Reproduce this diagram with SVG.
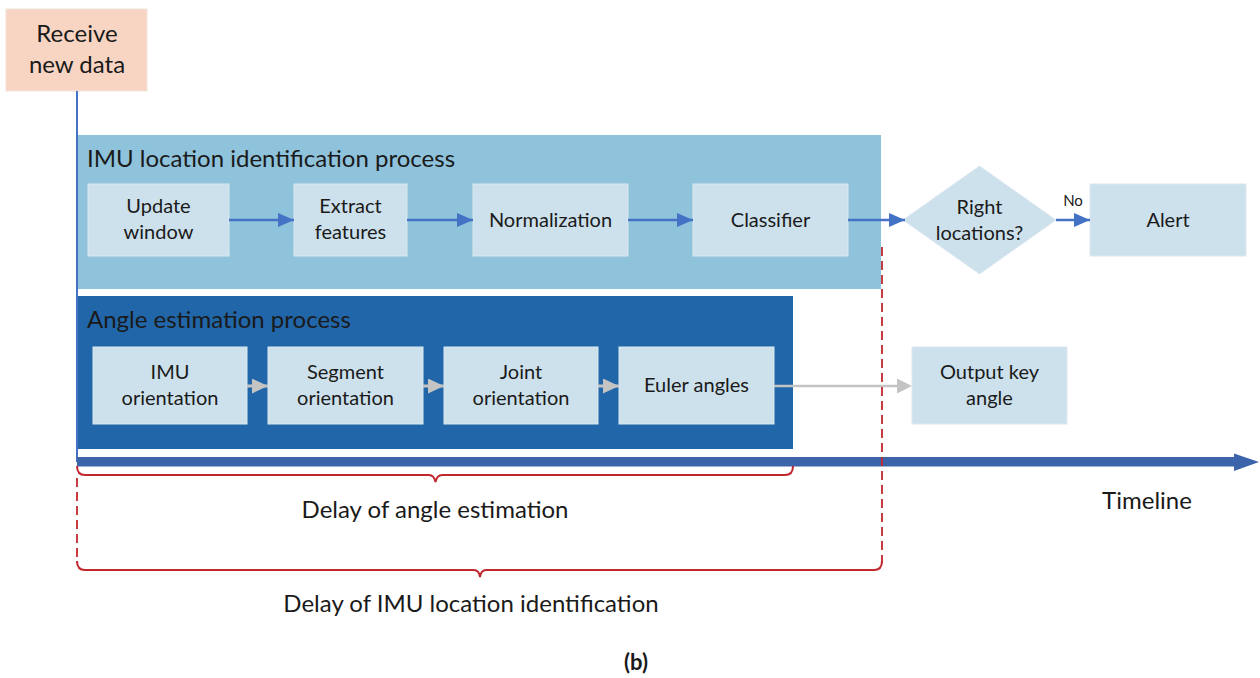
<svg xmlns="http://www.w3.org/2000/svg" width="1260" height="678" viewBox="0 0 1260 678">
<style>
text{font-family:Lato,"Open Sans","Liberation Sans",sans-serif;fill:#1a1a1a;text-anchor:middle}
.t{font-size:24px}
.n{font-size:20px}
.title{font-size:24px;text-anchor:start}
.inner{fill:#CDE1EC;stroke:#DCE8F0;stroke-width:1}
.blue{stroke:#4472C4;stroke-width:2.5;fill:none}
.gray{stroke:#C4C4C4;stroke-width:3;fill:none}
.red{stroke:#C0282E;stroke-width:2;fill:none}
.dash{stroke:#C0282E;stroke-width:1.8;fill:none;stroke-dasharray:9 5}
</style>
<defs>
<marker id="ab" viewBox="0 0 16 14" refX="16" refY="7" markerWidth="16" markerHeight="14" markerUnits="userSpaceOnUse" orient="auto"><path d="M0,0L16,7L0,14z" fill="#4472C4"/></marker>
<marker id="ag" viewBox="0 0 16 15" refX="16" refY="7.5" markerWidth="16" markerHeight="15" markerUnits="userSpaceOnUse" orient="auto"><path d="M0,0L16,7.5L0,15z" fill="#C4C4C4"/></marker>
</defs>
<rect width="1260" height="678" fill="#fff"/>

<g id="receive">
<rect x="6" y="9" width="141" height="82" fill="#F8D5C3" stroke="#F2E2DA" stroke-width="1"/>
<text class="t" x="77" y="42">Receive</text>
<text class="t" x="77" y="73">new data</text>
</g>

<g id="imu-process">
<rect x="77" y="135" width="804" height="154" fill="#8FC2DB"/>
<text class="title" x="87" y="167">IMU location identification process</text>
</g>
<g id="update-window"><rect class="inner" x="88" y="184" width="141" height="72"/><text class="n" x="158.5" y="213">Update</text><text class="n" x="158.5" y="239">window</text></g>
<g id="extract-features"><rect class="inner" x="294" y="184" width="113" height="72"/><text class="n" x="350.5" y="213">Extract</text><text class="n" x="350.5" y="239">features</text></g>
<g id="normalization"><rect class="inner" x="473" y="184" width="155" height="72"/><text class="n" x="550.5" y="227">Normalization</text></g>
<g id="classifier"><rect class="inner" x="693" y="184" width="155" height="72"/><text class="n" x="770.5" y="227">Classifier</text></g>
<g id="right-locations"><path d="M903,220L979.5,166L1056,220L979.5,274z" fill="#CDE1EC" stroke="#DCE8F0"/><text class="n" x="979.5" y="214">Right</text><text class="n" x="979.5" y="240">locations?</text></g>
<g id="alert"><rect class="inner" x="1090" y="184" width="156" height="72"/><text class="n" x="1168" y="227">Alert</text></g>

<g id="angle-process">
<rect x="77" y="296" width="716" height="153" fill="#2166A9"/>
<text class="title" x="87" y="328">Angle estimation process</text>
</g>
<g id="imu-orientation"><rect class="inner" x="93" y="347" width="154" height="77"/><text class="n" x="170" y="379">IMU</text><text class="n" x="170" y="405">orientation</text></g>
<g id="segment-orientation"><rect class="inner" x="268" y="347" width="155" height="77"/><text class="n" x="345.5" y="379">Segment</text><text class="n" x="345.5" y="405">orientation</text></g>
<g id="joint-orientation"><rect class="inner" x="444" y="347" width="154" height="77"/><text class="n" x="521" y="379">Joint</text><text class="n" x="521" y="405">orientation</text></g>
<g id="euler-angles"><rect class="inner" x="619" y="347" width="155" height="77"/><text class="n" x="696.5" y="392">Euler angles</text></g>
<g id="output-key-angle"><rect class="inner" x="912" y="347" width="155" height="77"/><text class="n" x="989.5" y="379">Output key</text><text class="n" x="989.5" y="405">angle</text></g>

<g id="connectors">
<line x1="77" y1="91" x2="77" y2="462" stroke="#4472C4" stroke-width="2"/>
<line class="blue" x1="229" y1="220" x2="294" y2="220" marker-end="url(#ab)"/>
<line class="blue" x1="407" y1="220" x2="473" y2="220" marker-end="url(#ab)"/>
<line class="blue" x1="628" y1="220" x2="693" y2="220" marker-end="url(#ab)"/>
<line class="blue" x1="848" y1="220" x2="905" y2="220" marker-end="url(#ab)"/>
<line class="blue" x1="1056" y1="220" x2="1090" y2="220" marker-end="url(#ab)"/>
<text x="1073" y="206" style="font-size:15px">No</text>
<line class="gray" x1="247" y1="386" x2="268" y2="386" marker-end="url(#ag)"/>
<line class="gray" x1="423" y1="386" x2="444" y2="386" marker-end="url(#ag)"/>
<line class="gray" x1="598" y1="386" x2="619" y2="386" marker-end="url(#ag)"/>
<line x1="774" y1="386" x2="898" y2="386" stroke="#C4C4C4" stroke-width="2.5"/>
<path d="M897,378.5L912,386L897,393.5z" fill="#C4C4C4"/>
</g>

<g id="timeline">
<path d="M77,457H1234V453.5L1259,462L1234,471V466.5H77z" fill="#3C64AB"/>
<text class="t" x="1147" y="509">Timeline</text>
</g>

<g id="delays">
<line class="dash" x1="882" y1="247" x2="882" y2="563"/>
<line class="dash" x1="77" y1="478" x2="77" y2="563"/>
<path class="red" d="M77,561Q77,570 85,570H474Q479,570 480,577Q481,570 486,570H874Q882,570 882,561"/>
<path class="red" d="M77,466Q77,475 85,475H429Q434,475 435.5,482Q437,475 442,475H785Q793,475 793,466"/>
<text class="t" x="435" y="518">Delay of angle estimation</text>
<text class="t" x="471" y="612">Delay of IMU location identification</text>
</g>

<text x="636" y="670" style="font-size:22px;font-weight:bold">(b)</text>
</svg>
